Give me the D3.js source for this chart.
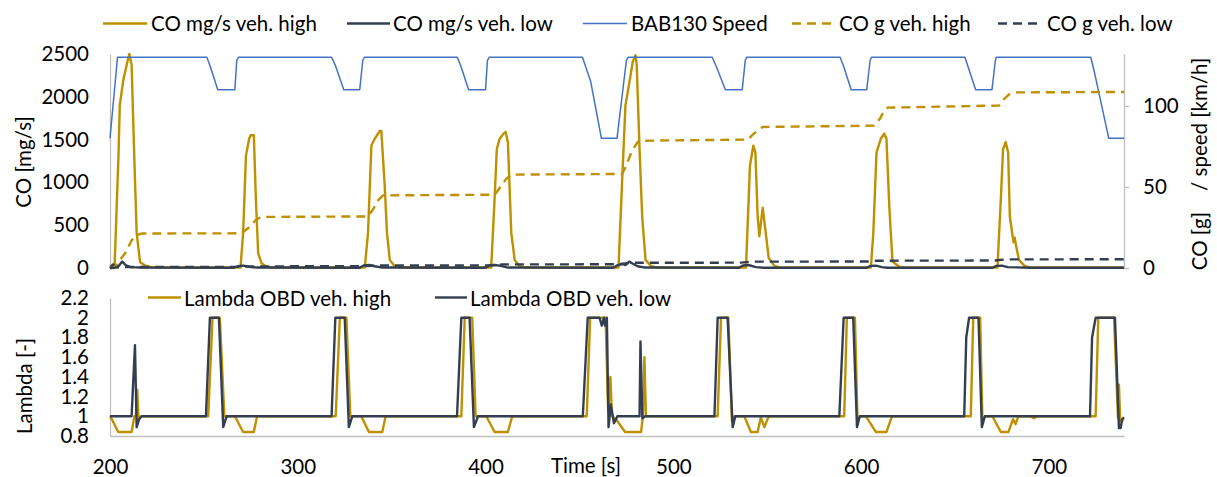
<!DOCTYPE html>
<html>
<head>
<meta charset="utf-8">
<script src="https://cdn.jsdelivr.net/npm/d3@7"></script>
<style>
  body { margin: 0; background: #fff; }
  svg text { font-family: Lato, "Open Sans", sans-serif; fill: #000; }
</style>
</head>
<body>
<svg id="chart" width="1217" height="477"></svg>
<script>
// ---- data: [time s, value] ----
const coHighMgs = [
  [200,15],[201.8,35],[202.5,60],[204.5,1300],[205.2,1900],[207.1,2200],[208.9,2375],[210.3,2500],[211.5,2375],[212.8,1390],[214.2,410],[216,70],[218.6,30],[222,10],
  [269.5,5],[270.9,410],[272.4,1310],[274.1,1510],[274.9,1550],[276.6,1550],[277.7,800],[278.9,175],[280.7,55],[283.4,15],[287,5],
  [335.7,5],[337.4,410],[339.2,1430],[341,1510],[343.6,1600],[344.5,1600],[346.3,960],[347.5,410],[349,95],[351.6,20],[355,5],
  [403,5],[404.8,800],[406,1390],[407.5,1510],[409.6,1570],[410.7,1590],[411.9,1470],[413.7,410],[415.5,95],[418.1,20],[422,5],
  [470.8,5],[472.7,1000],[474.5,1900],[476.7,2180],[478.4,2410],[479.9,2485],[480.5,2375],[482,1390],[483.4,605],[485.2,95],[488.2,20],[492,5],
  [538.7,5],[540.8,1195],[542.6,1430],[543.7,1350],[544.9,605],[545.8,370],[547.6,705],[549,450],[550.8,115],[553.8,25],[557,5],
  [605.2,5],[606.5,410],[608.2,1350],[610.5,1510],[612.3,1570],[613.5,1510],[615,725],[616.7,75],[620.3,15],[624,5],
  [672.6,5],[674.4,800],[675.6,1390],[677,1470],[678.3,1350],[679.2,605],[680.5,400],[681.2,300],[681.8,355],[682.6,250],[684.1,95],[687,25],[690,5],[740,5]
];
const coLowMgs = [
  [200,0],[201.5,40],[203,30],[204.5,20],[206.5,75],[208.5,30],[211,10],[216,5],
  [266,3],[268,20],[271,28],[274,15],[278,5],
  [333,3],[335,30],[338,35],[341,20],[345,5],
  [400,3],[402,30],[405,35],[408,25],[412,5],
  [468,3],[470,30],[473,47],[474.5,35],[476.5,75],[478,55],[481,20],[485,5],
  [535,3],[537,30],[540,35],[544,10],[548,3],
  [603,3],[605,25],[608,28],[611,10],[614,3],
  [670,3],[672,25],[675,28],[678,10],[690,3],[740,3]
];
const speedKmh = [
  [200,80],[204,130],[251.6,130],[253.5,124],[257.4,110],[266.5,110],[267.5,128],[268.5,130],
  [318,130],[320,125],[324.5,110],[333,110],[334.6,128],[335.5,130],
  [385,130],[387,124],[391,110],[400,110],[401,128],[402,130],
  [451.6,130],[456,115],[461.7,80],[470,80],[475,128],[476,130],
  [520.7,130],[523,124],[527.7,110],[536.7,110],[538.3,128],[539,130],
  [588.8,130],[590.5,125],[594.7,110],[603,110],[604.8,128],[605.5,130],
  [655.3,130],[657,124],[661,110],[669.7,110],[671.5,128],[672,130],
  [722.3,130],[724,122],[731.9,80],[740,80]
];
const coHighG = [
  [200,0],[202,0],[208,9],[211.5,17],[214.2,20.2],[217,21.3],[270,21.4],[274,25],[278,30],[280.7,31.5],
  [337.4,31.8],[340,36],[343,42],[345.4,44.8],[404.8,45.2],[408,50],[411,55],[413.7,57.6],
  [472.7,58],[474.5,62],[478,72.3],[481,77.7],[482,78.5],[539.6,79.2],[543,83],[547.6,87],
  [607,87.8],[610,92],[612,96.5],[614.1,98.9],[673.5,100.2],[676,104],[678.8,107.1],[682,108.3],[740,108.6]
];
const coLowG = [
  [200,0],[203,0.3],[208,0.6],[268,0.7],[274,1.0],[335,1.1],[342,1.5],[401,1.6],[409,2.2],
  [469,2.3],[478,3.2],[536,3.3],[541,3.9],[604,4.0],[608,4.5],[671,4.6],[677,5.3],[740,5.4]
];
const lambdaHigh = [
  [200,1],[201,0.97],[204.4,0.84],[211.5,0.84],[213,1.0],[213.8,1.0],[214.5,1.27],[215.2,0.97],[216.5,1],
  [252.3,1],[254.6,2],[258.5,2],[260.9,1],[266.5,1],[270.9,0.84],[276.6,0.84],[278.3,1],
  [320.2,1],[322.4,2],[325.9,2],[328,1],[333.8,1],[337.9,0.84],[345,0.84],[346.8,1],
  [387.1,1],[388.9,2],[392.9,2],[394.7,1],[400.4,1],[404.8,0.84],[411.9,0.84],[414.2,1],
  [453.9,1],[455.7,2],[463.9,2],[465.3,1.05],[466.5,1.4],[467.3,1.0],[469.5,0.97],[474.3,0.84],[482.8,0.84],[483.8,1.0],[484.6,1.6],[485.4,1.0],
  [523.6,1],[525.4,2],[529.3,2],[531.2,0.95],[532.5,1],[537.8,1],[541.3,0.84],[544.9,0.84],[546.6,0.99],[548.5,0.89],[550.8,1],
  [591,1],[592.4,2],[596.7,2],[598.1,0.95],[599.5,1],[602.6,1],[607.9,0.84],[613.5,0.84],[616.4,1],
  [658.4,1],[659.7,2],[663.4,2],[664.6,0.95],[666,1],[669.9,1],[674.4,0.84],[678.4,0.84],[680.9,0.97],[682.3,0.92],[683.7,1],[690,1],[692,0.98],[694,1],
  [724.9,1],[726.3,2],[734.7,2],[736.8,0.98],[737.3,1.32],[738,0.95],[740,0.97]
];
const lambdaLow = [
  [200,1],[211.5,1],[213.3,1.72],[214.2,0.89],[215.5,0.97],[216.9,1],
  [251.1,1],[253.2,2],[258,2],[260.3,0.89],[262.1,1],
  [318,1],[320,2],[325,2],[327.2,0.89],[329,1],
  [384.8,1],[387.1,2],[391.5,2],[393.8,0.89],[396,1],
  [451.8,1],[454.4,2],[460.7,2],[461.9,1.92],[463,2],[463.6,1.92],[464.6,2],[465.5,0.89],[466.7,1.12],[468.4,0.93],[470.2,1],
  [482,1],[482.5,1.76],[483.5,0.98],[485,1],
  [521.9,1],[523.6,2],[528.9,2],[531.6,0.89],[533,1],
  [588.4,1],[590.7,2],[595.8,2],[597.8,0.89],[599.3,1],
  [654.9,1],[656,1.8],[657.5,2],[662.5,2],[664.3,0.89],[665.9,1],
  [721.9,1],[723,1.8],[724.9,2],[735.2,2],[737.3,0.88],[738.2,0.88],[739,0.97],[740,0.99]
];

// ---- ticks ----
const timeTicks = [200, 300, 400, 500, 600, 700];
const coTicks = [0, 500, 1000, 1500, 2000, 2500];
const rightTicks = [0, 50, 100];
const lambdaTicks = [0.8, 1, 1.2, 1.4, 1.6, 1.8, 2, 2.2];

// ---- styling ----
const GOLD = "#BF9000", DARK = "#333F50", BLUE = "#4472C4", AXIS = "#BFBFBF";
const FS = 20.5;

const svg = d3.select("#chart");

const x = d3.scaleLinear().domain([200, 740]).range([110, 1124]);
const yCo = d3.scaleLinear().domain([0, 2500]).range([268, 54]);
const yRight = d3.scaleLinear().domain([0, 132]).range([268, 54]);
const yLam = d3.scaleLinear().domain([0.8, 2.2]).range([436, 298]);

function styleAxis(g) {
  g.select(".domain").attr("stroke", AXIS).attr("stroke-width", 1.3);
  g.selectAll(".tick line").attr("stroke", AXIS).attr("stroke-width", 1.3);
  g.selectAll(".tick text").attr("font-size", FS).attr("fill", "#000")
    .style("font-family", "Lato, 'Open Sans', sans-serif");
}

// upper panel axes
svg.append("g").attr("transform", "translate(110,0)")
  .call(d3.axisLeft(yCo).tickValues(coTicks).tickSize(0).tickSizeOuter(0).tickPadding(21).tickFormat(d3.format("d")))
  .call(styleAxis);
svg.append("g").attr("transform", "translate(1124,0)")
  .call(d3.axisRight(yRight).tickValues(rightTicks).tickSize(5).tickSizeOuter(0).tickPadding(14).tickFormat(d3.format("d")))
  .call(styleAxis)
  .call(g => g.selectAll(".tick text").attr("text-anchor", "start"));

// lower panel axes
svg.append("g").attr("transform", "translate(110,0)")
  .call(d3.axisLeft(yLam).tickValues(lambdaTicks).tickSize(0).tickSizeOuter(0).tickPadding(21).tickFormat(d => d3.format("~g")(d)))
  .call(styleAxis);
svg.append("g").attr("transform", "translate(0,436)")
  .call(d3.axisBottom(x).tickValues(timeTicks).tickSize(0).tickSizeOuter(0).tickPadding(23).tickFormat(d3.format("d")))
  .call(styleAxis);

// axis titles
function vTitle(txt, cx, cy) {
  svg.append("text")
    .attr("transform", `translate(${cx},${cy}) rotate(-90)`)
    .attr("text-anchor", "middle").attr("font-size", FS)
    .style("white-space", "pre")
    .text(txt);
}
vTitle("CO [mg/s]", 31, 162);
vTitle("Lambda [-]", 32, 386);
vTitle("CO [g]    / speed [km/h]", 1207, 164);
svg.append("text").attr("x", 586).attr("y", 473).attr("text-anchor", "middle")
  .attr("font-size", FS).text("Time [s]");

// series
const lineCo = d3.line().x(d => x(d[0])).y(d => yCo(d[1]));
const lineRight = d3.line().x(d => x(d[0])).y(d => yRight(d[1]));
const lineLam = d3.line().x(d => x(d[0])).y(d => yLam(d[1]));

function path(data, gen, color, width, dash) {
  const p = svg.append("path").datum(data).attr("d", gen)
    .attr("fill", "none").attr("stroke", color).attr("stroke-width", width)
    .attr("stroke-linejoin", "round");
  if (dash) p.attr("stroke-dasharray", dash);
  return p;
}
path(coHighMgs, lineCo, GOLD, 2.4);
path(coLowMgs, lineCo, DARK, 2.4);
path(speedKmh, lineRight, BLUE, 1.5);
path(coHighG, lineRight, GOLD, 2.4, "9,6");
path(coLowG, lineRight, DARK, 2.4, "9,6");

path(lambdaHigh, lineLam, GOLD, 2.4);
path(lambdaLow, lineLam, DARK, 2.4);

// legends
const topLegend = [
  { label: "CO mg/s veh. high", color: GOLD, w: 2.4, dash: null, x0: 103, x1: 147, tx: 151 },
  { label: "CO mg/s veh. low", color: DARK, w: 2.4, dash: null, x0: 347, x1: 390, tx: 393 },
  { label: "BAB130 Speed", color: BLUE, w: 1.5, dash: null, x0: 583, x1: 627, tx: 631 },
  { label: "CO g veh. high", color: GOLD, w: 2.4, dash: "9,6", x0: 792, x1: 832, tx: 839 },
  { label: "CO g veh. low", color: DARK, w: 2.4, dash: "9,6", x0: 998, x1: 1038, tx: 1047 }
];
const bottomLegend = [
  { label: "Lambda OBD veh. high", color: GOLD, w: 2.4, dash: null, x0: 148, x1: 181, tx: 184 },
  { label: "Lambda OBD veh. low", color: DARK, w: 2.4, dash: null, x0: 435, x1: 467, tx: 470 }
];
function legend(items, ly, ty) {
  const g = svg.append("g");
  items.forEach(it => {
    const l = g.append("line").attr("x1", it.x0).attr("x2", it.x1).attr("y1", ly).attr("y2", ly)
      .attr("stroke", it.color).attr("stroke-width", it.w);
    if (it.dash) l.attr("stroke-dasharray", it.dash);
    g.append("text").attr("x", it.tx).attr("y", ty).attr("font-size", FS).text(it.label);
  });
}
legend(topLegend, 23.5, 31);
legend(bottomLegend, 297.5, 306);
</script>
</body>
</html>
